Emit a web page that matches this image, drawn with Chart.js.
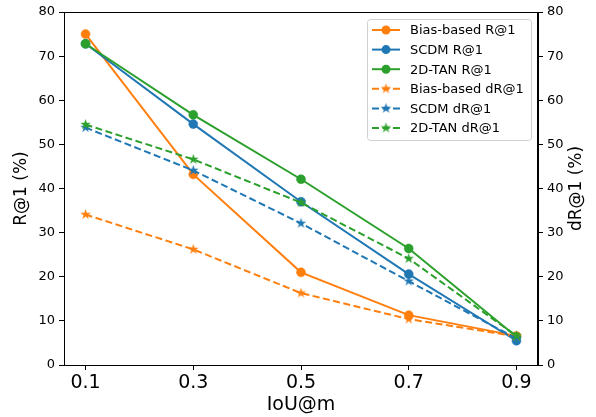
<!DOCTYPE html>
<html>
<head>
<meta charset="utf-8">
<script src="https://cdn.jsdelivr.net/npm/chart.js@4/dist/chart.umd.min.js"></script>
<style>
html,body{margin:0;padding:0;background:#fff;}
#wrap{width:596px;height:417px;}
</style>
</head>
<body>
<div id="wrap"><canvas id="c" width="596" height="417"></canvas></div>
<script>
const xValues = [0.1, 0.3, 0.5, 0.7, 0.9];
const xTickLabels = ['0.1', '0.3', '0.5', '0.7', '0.9'];
const yTicks = [0, 10, 20, 30, 40, 50, 60, 70, 80];
const seriesNames = ['Bias-based R@1', 'SCDM R@1', '2D-TAN R@1', 'Bias-based dR@1', 'SCDM dR@1', '2D-TAN dR@1'];
const biasR = [75.0, 43.2, 21.0, 11.3, 6.6];
const scdmR = [72.8, 54.6, 37.0, 20.6, 5.5];
const tanR = [72.8, 56.7, 42.1, 26.4, 6.4];
const biasD = [34.1, 26.2, 16.3, 10.4, 6.5];
const scdmD = [53.8, 44.1, 32.1, 19.0, 6.0];
const tanD = [54.5, 46.6, 36.8, 24.1, 6.6];

const ORANGE = '#ff7f0e', BLUE = '#1f77b4', GREEN = '#2ca02c';
const FONT = "'DejaVu Sans', sans-serif";

function makeStar(color, r) {
  const s = Math.ceil(r * 2 + 2);
  const cv = document.createElement('canvas');
  cv.width = s; cv.height = s;
  const g = cv.getContext('2d');
  const cx = s / 2, cy = s / 2, ri = r * 0.382;
  g.beginPath();
  for (let i = 0; i < 10; i++) {
    const rad = i % 2 === 0 ? r : ri;
    const a = -Math.PI / 2 + i * Math.PI / 5;
    const px = cx + rad * Math.cos(a), py = cy + rad * Math.sin(a);
    if (i === 0) g.moveTo(px, py); else g.lineTo(px, py);
  }
  g.closePath();
  g.fillStyle = color; g.fill();
  return cv;
}
const stars = {o: makeStar(ORANGE, 5.5), b: makeStar(BLUE, 5.5), g: makeStar(GREEN, 5.5)};

function pts(vals) { return xValues.map((x, i) => ({x: x, y: vals[i]})); }

function solid(label, vals, color, order) {
  return {label, data: pts(vals), borderColor: color, backgroundColor: color,
    borderWidth: 2, pointRadius: 4.5, pointHoverRadius: 4.5, pointStyle: 'circle',
    pointBackgroundColor: color, pointBorderColor: color, pointBorderWidth: 0.5,
    yAxisID: 'y', order, tension: 0, fill: false};
}
function dashed(label, vals, color, star, order) {
  return {label, data: pts(vals), borderColor: color, backgroundColor: color,
    borderWidth: 2, borderDash: [7, 3.5], pointStyle: star, pointRadius: 5,
    yAxisID: 'y2', order, tension: 0, fill: false};
}

const datasets = [
  solid(seriesNames[0], biasR, ORANGE, 6),
  solid(seriesNames[1], scdmR, BLUE, 5),
  solid(seriesNames[2], tanR, GREEN, 4),
  dashed(seriesNames[3], biasD, ORANGE, stars.o, 3),
  dashed(seriesNames[4], scdmD, BLUE, stars.b, 2),
  dashed(seriesNames[5], tanD, GREEN, stars.g, 1)
];

const framePlugin = {
  id: 'frame',
  afterDatasetsDraw(chart) {
    const {ctx, chartArea: a} = chart;
    ctx.save();
    ctx.strokeStyle = '#000'; ctx.lineWidth = 1;
    ctx.strokeRect(Math.round(a.left) + 0.5, Math.round(a.top) + 0.5, Math.round(a.right - a.left) - 1 + 0, Math.round(a.bottom - a.top));
    ctx.fillStyle = '#000';
    ctx.font = '17px ' + FONT;
    ctx.textAlign = 'center'; ctx.textBaseline = 'middle';
    ctx.translate(577, (a.top + a.bottom) / 2);
    ctx.rotate(-Math.PI / 2);
    ctx.fillText('dR@1 (%)', 0, 0);
    ctx.restore();
  }
};

const legendPlugin = {
  id: 'mplLegend',
  afterDraw(chart) {
    const ctx = chart.ctx;
    const L = 367, T = 19, R = 531, B = 140;
    ctx.save();
    ctx.beginPath();
    ctx.roundRect(L + 0.5, T + 0.5, R - L, B - T, 3);
    ctx.fillStyle = 'rgba(255,255,255,0.8)';
    ctx.fill();
    ctx.strokeStyle = '#d0d0d0'; ctx.lineWidth = 1;
    ctx.stroke();
    ctx.font = '13px ' + FONT;
    ctx.textBaseline = 'middle'; ctx.textAlign = 'left';
    chart.data.datasets.forEach((ds, i) => {
      const y = 30 + i * 19.6;
      ctx.strokeStyle = ds.borderColor; ctx.lineWidth = 2;
      ctx.setLineDash(ds.borderDash || []);
      ctx.beginPath(); ctx.moveTo(372, y); ctx.lineTo(400, y); ctx.stroke();
      ctx.setLineDash([]);
      if (ds.pointStyle === 'circle') {
        ctx.beginPath(); ctx.arc(386, y, 4.5, 0, Math.PI * 2);
        ctx.fillStyle = ds.borderColor; ctx.fill();
      } else {
        const img = ds.pointStyle;
        ctx.drawImage(img, 386 - img.width / 2, y - img.height / 2);
      }
      ctx.fillStyle = '#000';
      ctx.fillText(ds.label, 410, y + 1);
    });
    ctx.restore();
  }
};

const tickGrid = {drawOnChartArea: false, drawTicks: true, tickLength: 5, color: '#000', lineWidth: 1};

new Chart(document.getElementById('c'), {
  type: 'line',
  data: {datasets},
  plugins: [framePlugin, legendPlugin],
  options: {
    responsive: false,
    devicePixelRatio: 1,
    animation: false,
    layout: {padding: {top: 12, left: 0, right: 0, bottom: 0}},
    plugins: {legend: {display: false}, tooltip: {enabled: false}},
    scales: {
      x: {
        type: 'linear', position: 'bottom', min: 0.06, max: 0.94,
        afterBuildTicks(s) { s.ticks = xValues.map(v => ({value: v})); },
        ticks: {color: '#000', font: {family: FONT, size: 19}, padding: 2,
          maxRotation: 0, autoSkip: false,
          callback(v) { const i = xValues.findIndex(x => Math.abs(x - v) < 1e-9); return i >= 0 ? xTickLabels[i] : ''; }},
        grid: tickGrid,
        border: {display: true, color: '#000', width: 1},
        title: {display: true, text: 'IoU@m', color: '#000', font: {family: FONT, size: 19}, padding: {top: 0, bottom: 1}},
        afterFit(s) { s.height = 52; }
      },
      y: {
        position: 'left', min: 0, max: 80,
        afterBuildTicks(s) { s.ticks = yTicks.map(v => ({value: v})); },
        ticks: {color: '#000', font: {family: FONT, size: 13}, padding: 4},
        grid: tickGrid,
        border: {display: true, color: '#000', width: 1},
        title: {display: true, text: 'R@1 (%)', color: '#000', font: {family: FONT, size: 17}, padding: {top: 11, bottom: 0}},
        afterFit(s) { s.width = 64; }
      },
      y2: {
        position: 'right', min: 0, max: 80,
        afterBuildTicks(s) { s.ticks = yTicks.map(v => ({value: v})); },
        ticks: {color: '#000', font: {family: FONT, size: 13}, padding: 4},
        grid: tickGrid,
        border: {display: true, color: '#000', width: 1},
        afterFit(s) { s.width = 58; }
      }
    }
  }
});
</script>
</body>
</html>
